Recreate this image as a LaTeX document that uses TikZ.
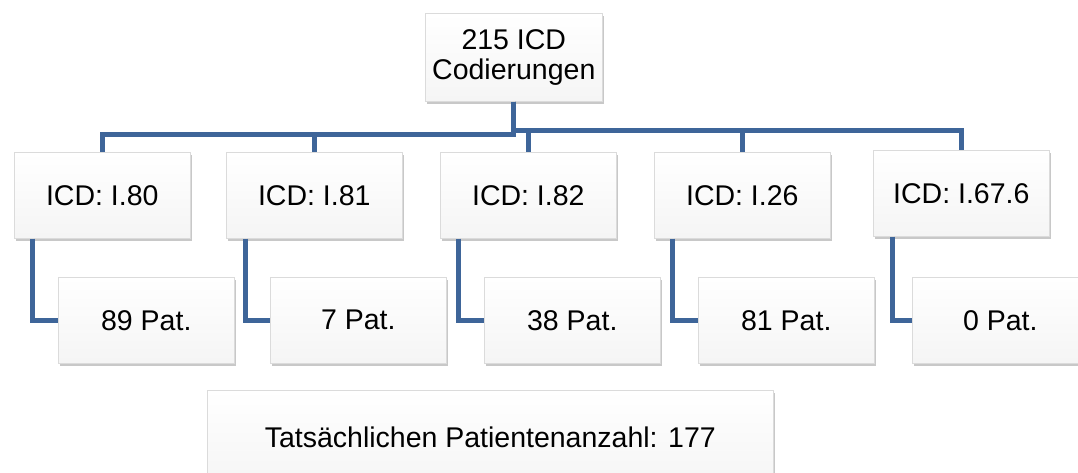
\documentclass[tikz,border=0pt]{standalone}
\usepackage{fontspec}
\setmainfont{Liberation Sans}
\usetikzlibrary{shadows}
\definecolor{linkblue}{RGB}{62,101,153}
\begin{document}
\begin{tikzpicture}[x=1pt,y=-1pt,
  box/.style={draw=black!14, line width=0.6pt, top color=white, bottom color=black!4,
    minimum width=176pt, minimum height=86pt, inner sep=0pt, anchor=north west,
    align=center, font=\fontsize{28.5}{29.5}\selectfont,
    drop shadow={shadow xshift=1.5pt, shadow yshift=-3pt, opacity=0.3, fill=black!70}},
  link/.style={draw=linkblue, line width=5pt}]
\useasboundingbox (0,0) rectangle (1078,473);
\fill[white] (0,0) rectangle (1078,473);
% root
\node[box, minimum width=177pt, minimum height=88pt] (root) at (425,13) {215 ICD\\Codierungen};
% level 1
\node[box] (a1) at (14,152)  {ICD: I.80};
\node[box] (a2) at (226,152) {ICD: I.81};
\node[box] (a3) at (440,152) {ICD: I.82};
\node[box] (a4) at (654,152) {ICD: I.26};
\node[box] (a5) at (873,150) {ICD: I.67.6};
% level 2
\node[box] (b1) at (58,277)  {89 Pat.};
\node[box] (b2) at (270,277) {7 Pat.};
\node[box] (b3) at (484,277) {38 Pat.};
\node[box] (b4) at (698,277) {81 Pat.};
\node[box] (b5) at (912,277) {0 Pat.};
% total
\node[box, minimum width=566pt, minimum height=95pt] (total) at (207,390) {Tatsächlichen Patientenanzahl: 177};
% connectors root -> level 1
\draw[link] (root.south) -- ++(0,33) -| (a1.north);
\draw[link] (root.south) -- ++(0,33) -| (a2.north);
\draw[link] (root.south) -- ++(0,29) -| (a3.north);
\draw[link] (root.south) -- ++(0,29) -| (a4.north);
\draw[link] (root.south) -- ++(0,29) -| (a5.north);
% connectors level 1 -> level 2
\draw[link] ([xshift=18pt]a1.south west) |- (b1.west);
\draw[link] ([xshift=19pt]a2.south west) |- (b2.west);
\draw[link] ([xshift=18pt]a3.south west) |- (b3.west);
\draw[link] ([xshift=18pt]a4.south west) |- (b4.west);
\draw[link] ([xshift=19pt]a5.south west) |- (b5.west);
\end{tikzpicture}
\end{document}
